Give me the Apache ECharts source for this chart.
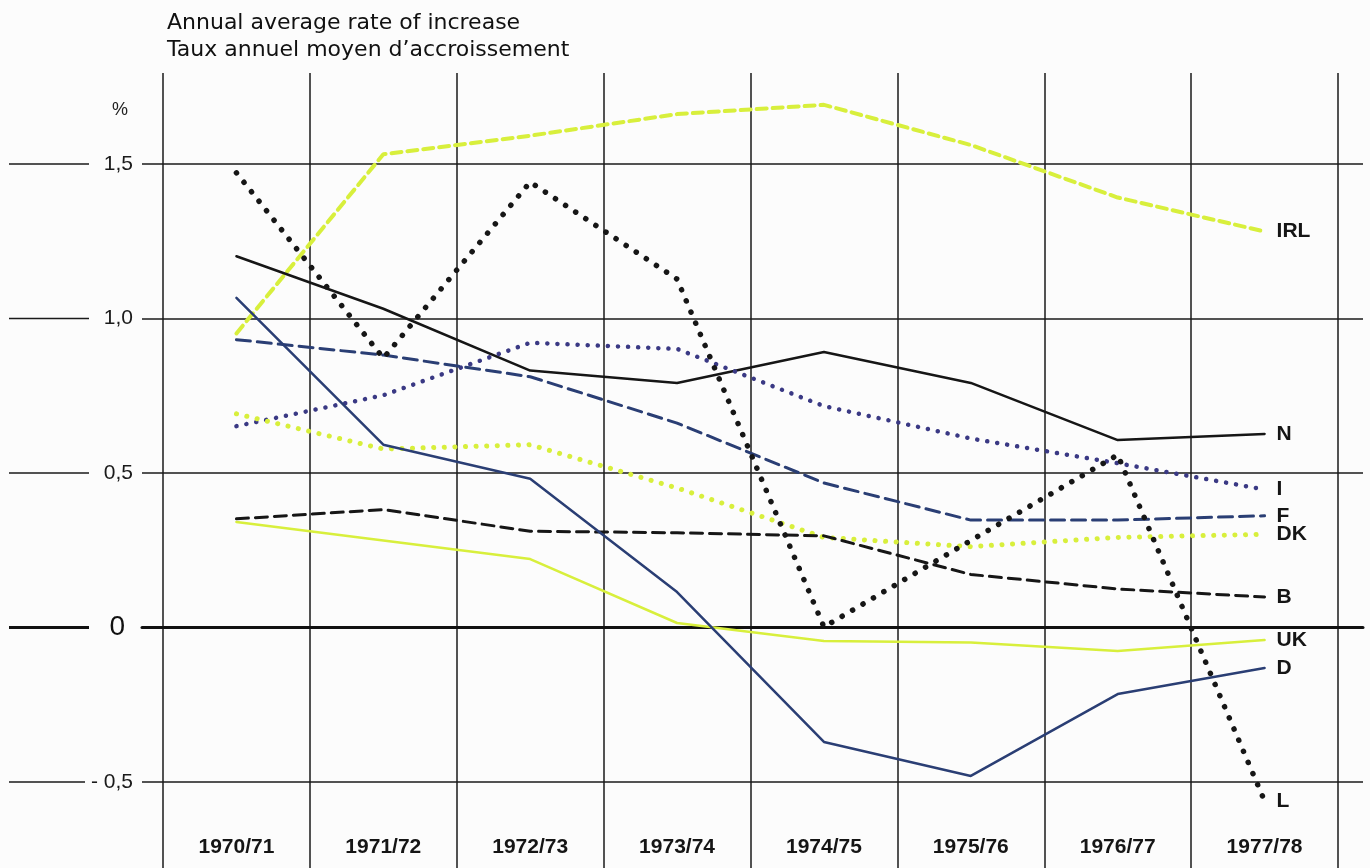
<!DOCTYPE html>
<html>
<head>
<meta charset="utf-8">
<script src="https://cdn.jsdelivr.net/npm/echarts@6/dist/echarts.min.js"></script>
<style>
    html, body { margin: 0; padding: 0; background: #fcfcfc; }
    #chart { width: 1370px; height: 868px; }
</style>
</head>
<body>
<div id="chart"></div>
<script>
// years on the x axis
var years = ['1970/71', '1971/72', '1972/73', '1973/74', '1974/75', '1975/76', '1976/77', '1977/78'];
// y axis ticks (%)
var yTicks = [-0.5, 0, 0.5, 1.0, 1.5];

// annual average rate of increase, %
var irl = [0.95, 1.53, 1.59, 1.66, 1.69, 1.56, 1.39, 1.28];
var n   = [1.20, 1.03, 0.83, 0.79, 0.89, 0.79, 0.605, 0.625];
var i   = [0.65, 0.75, 0.92, 0.90, 0.715, 0.61, 0.53, 0.445];
var f   = [0.93, 0.88, 0.81, 0.66, 0.466, 0.346, 0.346, 0.36];
var dk  = [0.69, 0.576, 0.59, 0.45, 0.29, 0.26, 0.29, 0.30];
var b   = [0.35, 0.38, 0.31, 0.305, 0.295, 0.17, 0.123, 0.097];
var uk  = [0.34, 0.28, 0.22, 0.013, -0.045, -0.05, -0.078, -0.042];
var d   = [1.065, 0.59, 0.48, 0.113, -0.372, -0.482, -0.217, -0.133];
var l   = [1.47, 0.87, 1.44, 1.126, 0.0, 0.28, 0.557, -0.563];

var green = '#d8ef3c';
var black = '#161616';
var navy = '#2a3e74';
var purple = '#3a3984';

function line(name, data, color, width, type) {
    return {
        name: name,
        type: 'line',
        data: data,
        xAxisIndex: 0,
        yAxisIndex: 0,
        symbol: 'none',
        silent: true,
        lineStyle: { color: color, width: width, type: type, cap: 'round' },
        endLabel: {
            show: true,
            formatter: '{a}',
            distance: 12,
            fontFamily: 'Liberation Sans',
            fontSize: 21,
            fontWeight: 'bold',
            color: '#151515'
        }
    };
}

function tickLabel(v) {
    if (v === 0) return '{ln0| }{t0|0}';
    var s = v.toFixed(1).replace('.', ',');
    if (v < 0) return '{lnn| }{tn|- ' + s.replace('-', '') + '}';
    return '{ln| }{t|' + s + '}';
}

var option = {
    backgroundColor: '#fcfcfc',
    animation: false,
    title: [
        {
            text: 'Annual average rate of increase\nTaux annuel moyen d\u2019accroissement',
            left: 162,
            top: 5,
            textStyle: {
                fontFamily: 'DejaVu Sans',
                fontSize: 22,
                fontWeight: 'normal',
                lineHeight: 27,
                color: '#111'
            }
        },
        {
            text: '%',
            left: 107,
            top: 96,
            textStyle: { fontFamily: 'Liberation Sans', fontSize: 18, fontWeight: 'normal', color: '#222' }
        }
    ],
    grid: [
        // data grid, its split lines are the vertical rules
        { left: 163, right: 32, top: 73, bottom: 0, outerBoundsMode: 'none' },
        // horizontal rules and y labels
        { left: 142, right: 7, top: 164, bottom: 86, outerBoundsMode: 'none' }
    ],
    xAxis: [
        {
            type: 'category',
            gridIndex: 0,
            data: years,
            boundaryGap: true,
            axisLine: { show: false },
            axisTick: { show: false },
            axisLabel: {
                inside: true,
                margin: 10,
                fontFamily: 'Liberation Sans',
                fontSize: 21,
                fontWeight: 'bold',
                color: '#151515'
            },
            splitLine: { show: true, lineStyle: { color: '#1a1a1a', width: 1.5 } }
        },
        {
            type: 'value',
            gridIndex: 1,
            min: 0,
            max: 1,
            axisLine: { show: true, onZero: true, lineStyle: { color: '#111', width: 3 } },
            axisTick: { show: false },
            axisLabel: { show: false },
            splitLine: { show: false }
        }
    ],
    yAxis: [
        {
            type: 'value',
            gridIndex: 0,
            min: -0.780,
            max: 1.793,
            axisLine: { show: false },
            axisTick: { show: false },
            axisLabel: { show: false },
            splitLine: { show: false }
        },
        {
            type: 'value',
            gridIndex: 1,
            min: yTicks[0],
            max: yTicks[yTicks.length - 1],
            interval: 0.5,
            axisLine: { show: false },
            axisTick: { show: false },
            splitLine: { show: true, lineStyle: { color: '#1a1a1a', width: 1.5 } },
            axisLabel: {
                margin: 9,
                formatter: tickLabel,
                rich: {
                    ln: { width: 80, height: 1.5, backgroundColor: '#1a1a1a', verticalAlign: 'middle' },
                    lnn: { width: 76, height: 1.5, backgroundColor: '#1a1a1a', verticalAlign: 'middle' },
                    ln0: { width: 80, height: 3, backgroundColor: '#111', verticalAlign: 'middle' },
                    t: { width: 44, align: 'right', fontFamily: 'Liberation Sans', fontSize: 21, color: '#1a1a1a', verticalAlign: 'middle' },
                    tn: { width: 48, align: 'right', fontFamily: 'Liberation Sans', fontSize: 21, color: '#1a1a1a', verticalAlign: 'middle' },
                    t0: { width: 36, align: 'right', padding: [0, 8, 0, 0], fontFamily: 'Liberation Sans', fontSize: 28, color: '#111', verticalAlign: 'middle' }
                }
            }
        }
    ],
    series: [
        line('IRL', irl, green, 4, [10, 6]),
        line('N', n, black, 2.5, 'solid'),
        line('I', i, purple, 4.5, [0.1, 10]),
        line('F', f, navy, 3, [14, 7]),
        line('DK', dk, green, 5, [0.1, 10.5]),
        line('B', b, black, 3, [12, 7]),
        line('UK', uk, green, 2.5, 'solid'),
        line('D', d, navy, 2.5, 'solid'),
        line('L', l, black, 5.5, [0.1, 12])
    ]
};

var myChart = echarts.init(document.getElementById('chart'));
myChart.setOption(option);
</script>
</body>
</html>
